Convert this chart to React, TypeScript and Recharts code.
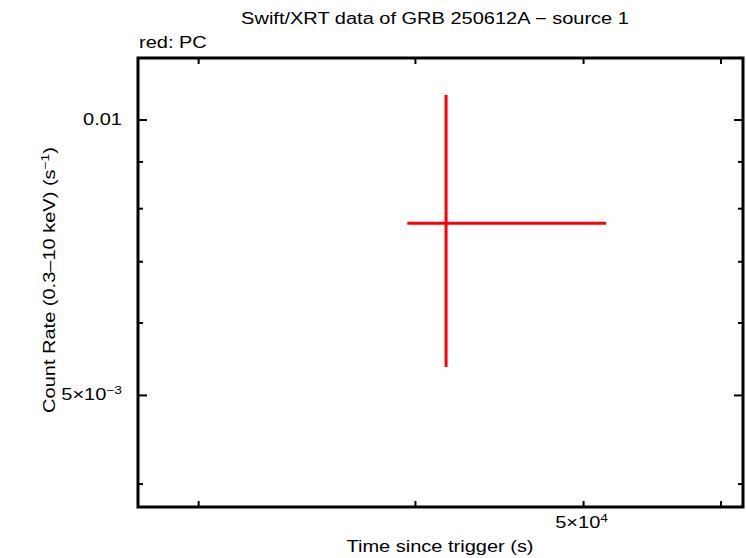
import { ScatterChart, Scatter, XAxis, YAxis, ErrorBar, ReferenceArea } from 'recharts'

// one PC-mode point
const times = [41660]
const timeLow = [39570]
const timeHigh = [51520]
const rates = [0.00771]
const rateLow = [0.00537]
const rateHigh = [0.01065]

const xTicks = [30000, 40000, 50000, 60000]
const yTicks = [0.004, 0.005, 0.006, 0.007, 0.008, 0.009, 0.01]
const xTickLabels = [{ value: 50000, base: '5×10', exp: '4' }]
const yTickLabels = [
  { value: 0.01, base: '0.01', exp: '' },
  { value: 0.005, base: '5×10', exp: '−3' },
]

const title = 'Swift/XRT data of GRB 250612A − source 1'
const subtitle = 'red: PC'
const xTitle = 'Time since trigger (s)'

const data = times.map((t, i) => ({
  t,
  rate: rates[i],
  tErr: [t - timeLow[i], timeHigh[i] - t],
  rateErr: [rates[i] - rateLow[i], rateHigh[i] - rates[i]],
}))

const W = 746
const H = 558
const FONT = "'Liberation Sans', Arial, Helvetica, sans-serif"
const SX = 1.25 // gnuplot's font is wider than Arial
const RED = '#ff0000'

function Txt({ x, y, size = 16, anchor = 'start', rotate = 0, children }: any) {
  return (
    <text
      transform={`translate(${x},${y}) rotate(${rotate}) scale(${SX},1)`}
      textAnchor={anchor}
      fontSize={size}
      fontFamily={FONT}
      fill="#000"
    >
      {children}
    </text>
  )
}

function findLabel(list: typeof xTickLabels, v: number) {
  return list.find((l) => Math.abs(l.value - v) / l.value < 1e-6)
}

function XTick({ x, y, payload, side }: any) {
  const dir = side === 'bottom' ? -1 : 1
  const lab = side === 'bottom' ? findLabel(xTickLabels, payload.value) : undefined
  return (
    <g>
      <line x1={x} y1={y} x2={x} y2={y + dir * 6} stroke="#000" strokeWidth={2} />
      {lab && (
        <Txt x={x - 2} y={y + 21} size={16} anchor="middle">
          {lab.base}
          <tspan dy={-6} fontSize={11}>{lab.exp}</tspan>
        </Txt>
      )}
    </g>
  )
}

function YTick({ x, y, payload, side }: any) {
  const dir = side === 'left' ? 1 : -1
  const lab = findLabel(yTickLabels, payload.value)
  const len = lab ? 9 : 5
  return (
    <g>
      <line x1={x} y1={y} x2={x + dir * len} y2={y} stroke="#000" strokeWidth={2} />
      {lab && side === 'left' && (
        <Txt x={x - 16} y={y + 5} size={16} anchor="end">
          {lab.base}
          {lab.exp && <tspan dy={-6} fontSize={11}>{lab.exp}</tspan>}
        </Txt>
      )}
    </g>
  )
}

const xDomain = [27680, 61780]
const yDomain = [0.003776, 0.01169]

export default function App() {
  return (
    <div style={{ position: 'relative', width: W, height: H }}>
      <style>{'body { margin: 0; }'}</style>
      <ScatterChart width={W} height={H} margin={{ top: 57, right: 2, bottom: 0, left: 0 }}>
        <XAxis
          xAxisId="bottom"
          dataKey="t"
          type="number"
          scale="log"
          domain={xDomain}
          allowDataOverflow
          ticks={xTicks}
          interval={0}
          height={51}
          tickSize={0}
          tickMargin={0}
          tickLine={false}
          axisLine={false}
          tick={(p: any) => <XTick {...p} side="bottom" />}
        />
        <XAxis
          xAxisId="top"
          orientation="top"
          dataKey="t"
          type="number"
          scale="log"
          domain={xDomain}
          allowDataOverflow
          ticks={xTicks}
          interval={0}
          height={1}
          tickSize={0}
          tickMargin={0}
          tickLine={false}
          axisLine={false}
          tick={(p: any) => <XTick {...p} side="top" />}
        />
        <YAxis
          yAxisId="left"
          dataKey="rate"
          type="number"
          scale="log"
          domain={yDomain}
          allowDataOverflow
          ticks={yTicks}
          interval={0}
          width={138}
          tickSize={0}
          tickMargin={0}
          tickLine={false}
          axisLine={false}
          tick={(p: any) => <YTick {...p} side="left" />}
        />
        <YAxis
          yAxisId="right"
          orientation="right"
          dataKey="rate"
          type="number"
          scale="log"
          domain={yDomain}
          allowDataOverflow
          ticks={yTicks}
          interval={0}
          width={1}
          tickSize={0}
          tickMargin={0}
          tickLine={false}
          axisLine={false}
          tick={(p: any) => <YTick {...p} side="right" />}
        />
        <ReferenceArea
          xAxisId="bottom"
          yAxisId="left"
          x1={xDomain[0]}
          x2={xDomain[1]}
          y1={yDomain[0]}
          y2={yDomain[1]}
          fill="none"
          fillOpacity={0}
          stroke="#000"
          strokeWidth={3}
          ifOverflow="visible"
        />
        <Scatter
          data={data}
          xAxisId="bottom"
          yAxisId="left"
          dataKey="rate"
          shape={() => <g />}
          isAnimationActive={false}
        >
          <ErrorBar dataKey="tErr" direction="x" width={0} stroke={RED} strokeWidth={3} isAnimationActive={false} />
          <ErrorBar dataKey="rateErr" direction="y" width={0} stroke={RED} strokeWidth={3} isAnimationActive={false} />
        </Scatter>
        <Scatter
          data={data}
          xAxisId="top"
          yAxisId="right"
          dataKey="rate"
          shape={() => <g />}
          isAnimationActive={false}
        />
      </ScatterChart>
      <svg
        width={W}
        height={H}
        style={{ position: 'absolute', left: 0, top: 0, pointerEvents: 'none' }}
      >
        <Txt x={435} y={24} anchor="middle">{title}</Txt>
        <Txt x={139} y={48}>{subtitle}</Txt>
        <Txt x={55} y={280} anchor="middle" rotate={-90}>
          Count Rate (0.3–10 keV) (s
          <tspan dy={-6} fontSize={11}>−1</tspan>
          <tspan dy={6}>)</tspan>
        </Txt>
        <Txt x={440} y={552} anchor="middle">{xTitle}</Txt>
      </svg>
    </div>
  )
}
